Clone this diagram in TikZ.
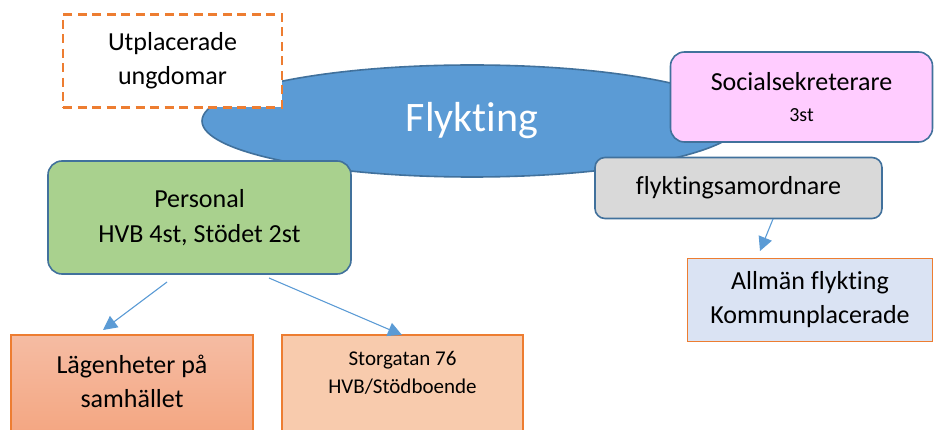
\documentclass[tikz,border=0pt]{standalone}
\usepackage{fontspec}
\setmainfont{Carlito}[Ligatures={NoCommon}]
\usetikzlibrary{shapes.geometric,arrows.meta}
\definecolor{blueF}{HTML}{5B9BD5}
\definecolor{blueB}{HTML}{41719C}
\definecolor{orangeB}{HTML}{ED7D31}
\definecolor{greenF}{HTML}{A9D18E}
\definecolor{pinkF}{HTML}{FFCCFF}
\definecolor{greyF}{HTML}{D9D9D9}
\definecolor{lagTop}{HTML}{F5BCA3}
\definecolor{lagBot}{HTML}{F4A47E}
\definecolor{storF}{HTML}{F8CBAD}
\definecolor{allF}{HTML}{DAE3F3}
\newcommand\myfs[2]{\fontsize{#1}{#2}\selectfont}
\begin{document}
\begin{tikzpicture}[x=1pt,y=-1pt,
  roundbox/.style={draw=blueB, line width=1.6pt, rounded corners=14pt, inner sep=0pt, align=center, font=\myfs{26}{35}},
  plainbox/.style={draw=orangeB, line width=1.3pt, inner sep=0pt, align=center},
  arr/.style={draw=blueF, line width=1.1pt, -{Triangle[length=14pt,width=14pt]}},
  txt/.style={inner sep=0pt, align=center}]
\useasboundingbox (0,0) rectangle (934,430);
\clip (0,0) rectangle (934,430);
% central ellipse
\node[ellipse, draw=blueB, fill=blueF, line width=1.6pt, minimum width=540pt, minimum height=112pt, inner sep=0pt, text=white, font=\myfs{42}{50}] (fly) at (472,121) {Flykting};
% dashed box
\node[draw=orangeB, fill=white, line width=2.5pt, dash pattern=on 9pt off 5.5pt, minimum width=219pt, minimum height=93pt, inner sep=0pt, align=center, font=\myfs{26}{34}] (utp) at (172.5,61) {Utplacerade\\ungdomar};
% social workers
\node[roundbox, fill=pinkF, minimum width=262pt, minimum height=90pt] (soc) at (801.5,97) {Socialsekreterare\\[-4pt]{\myfs{20}{24}3st}};
% coordinator
\node[roundbox, fill=greyF, rounded corners=10pt, minimum width=287pt, minimum height=61pt] (sam) at (738.5,188) {flyktingsamordnare};
% staff
\node[roundbox, fill=greenF, minimum width=303pt, minimum height=113pt] (per) at (199.5,217.5) {Personal\\HVB 4st, Stödet 2st};
% bottom boxes
\node[plainbox, top color=lagTop, bottom color=lagBot, minimum width=242pt, minimum height=110pt] (lag) at (132,390) {};
\node[txt, font=\myfs{26}{34}] (lagt) at (132,381) {Lägenheter på\\samhället};
\node[plainbox, fill=storF, minimum width=241pt, minimum height=110pt] (sto) at (402.5,390) {};
\node[txt, font=\myfs{21}{28}] (stot) at (402.5,373) {Storgatan 76\\HVB/Stödboende};
\node[plainbox, fill=allF, minimum width=245pt, minimum height=83pt, font=\myfs{26}{34}] (all) at (810,300) {Allmän flykting\\Kommunplacerade};
% arrows
\coordinate (a1s) at (167,282);
\coordinate (a1e) at (103,330);
\coordinate (a2s) at (269,278);
\coordinate (a2e) at (402,335);
\coordinate (a3s) at (773,219);
\coordinate (a3e) at (760,251);
\draw[arr] (a1s) -- (a1e);
\draw[arr] (a2s) -- (a2e);
\draw[arr] (a3s) -- (a3e);
\end{tikzpicture}
\end{document}
